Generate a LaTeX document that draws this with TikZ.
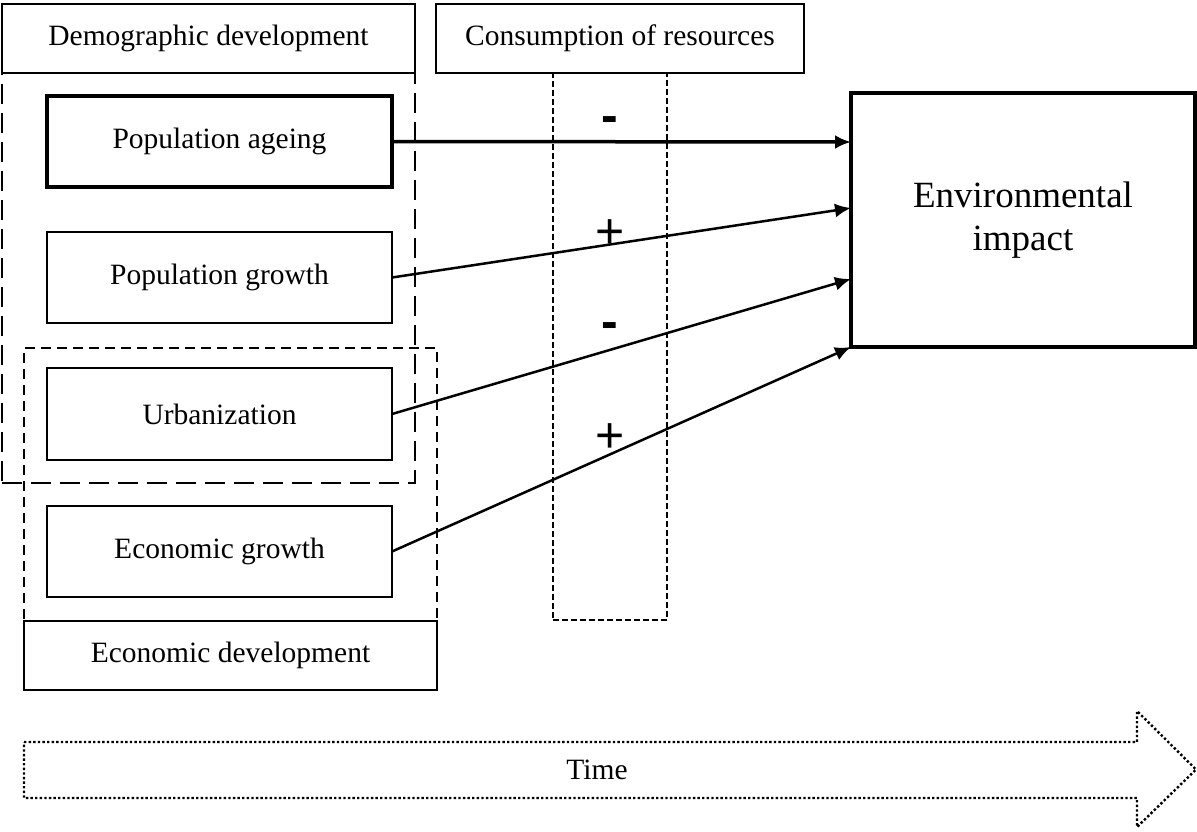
\documentclass[tikz,border=0pt]{standalone}
\usepackage{fontspec}
\setmainfont{Liberation Serif}
\newfontfamily\signfont{Liberation Sans}
\usetikzlibrary{arrows.meta}
\tikzset{
  box/.style={draw, line width=2pt, rectangle, inner sep=0pt, outer sep=0pt, font=\fontsize{29.5}{34}\selectfont},
  thickbox/.style={box, line width=4pt},
  demoframe/.style={draw, line width=2.5pt, dash pattern=on 20pt off 9pt, rectangle, inner sep=0pt, outer sep=0pt},
  econframe/.style={draw, line width=2.5pt, dash pattern=on 10pt off 6pt, rectangle, inner sep=0pt, outer sep=0pt},
  consframe/.style={draw, line width=2.2pt, dash pattern=on 6pt off 3pt, rectangle, inner sep=0pt, outer sep=0pt},
  conn/.style={line width=2.5pt, -{Latex[length=16pt,width=14pt]}},
  thickconn/.style={conn, line width=3.5pt},
  sign/.style={font=\signfont\fontsize{50}{50}\selectfont, inner sep=0pt},
  minussign/.style={font=\signfont\bfseries\fontsize{50}{50}\selectfont, inner sep=0pt},
  timearrow/.style={draw, line width=2.4pt, dash pattern=on 2.4pt off 2.2pt},
}
\begin{document}
\begin{tikzpicture}[x=1pt,y=-1pt]
\useasboundingbox (0,0) rectangle (1197,831);
% frames
\node[demoframe, minimum width=413pt, minimum height=410pt] (demof) at (208.5,278) {};
\node[econframe, minimum width=413pt, minimum height=273pt] (econf) at (230.5,484.5) {};
\node[consframe, minimum width=114pt, minimum height=547pt] (consf) at (610,346.5) {};
% header boxes
\node[box, fill=white, minimum width=413pt, minimum height=69pt] (demo) at (208.5,38.5) {Demographic development};
\node[box, fill=white, minimum width=368pt, minimum height=69pt] (cons) at (620,38.5) {Consumption of resources};
\node[box, fill=white, minimum width=413pt, minimum height=69pt] (econ) at (230.5,655.5) {Economic development};
% factor boxes
\node[thickbox, minimum width=345pt, minimum height=91pt] (ageing) at (219.5,141.5) {Population ageing};
\node[box, minimum width=345pt, minimum height=91pt] (growth) at (219.5,277.5) {Population growth};
\node[box, minimum width=345pt, minimum height=92pt] (urban) at (219.5,414) {Urbanization};
\node[box, minimum width=345pt, minimum height=91pt] (egrowth) at (219.5,551.5) {Economic growth};
% environmental impact
\node[thickbox, minimum width=344pt, minimum height=254pt, align=center, font=\fontsize{37}{43}\selectfont] (env) at (1023,220) {Environmental\\impact};
% connectors
\draw[thickconn] (ageing.east) -- ([yshift=78pt]env.west);
\draw[conn] (growth.east) -- ([yshift=12pt]env.west);
\draw[conn] (urban.east) -- ([yshift=-59pt]env.west);
\draw[conn] (egrowth.east) -- (env.south west);
% signs
\node[minussign] (s1) at (610,125) {-};
\node[sign] (s2) at (610,234) {+};
\node[minussign] (s3) at (610,331) {-};
\node[sign] (s4) at (610,438) {+};
% time arrow
\draw[timearrow] (24,742) -- (1137,742) -- (1137,711) -- (1196,769.5) -- (1137,827) -- (1137,798) -- (24,798) -- cycle;
\node[font=\fontsize{29.5}{34}\selectfont, inner sep=0pt] (time) at (597,770) {Time};
\end{tikzpicture}
\end{document}
